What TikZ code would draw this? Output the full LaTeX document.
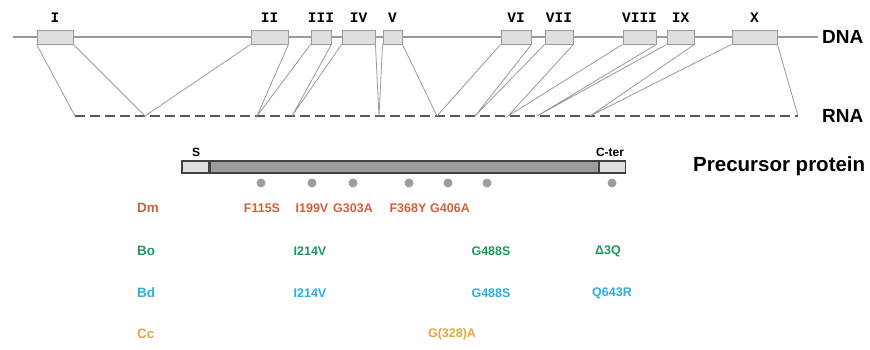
\documentclass[tikz,border=0pt]{standalone}
\usepackage{fontspec}
\setmainfont{Liberation Sans}
\newfontfamily\exonfont{Liberation Mono}
\usetikzlibrary{positioning}
\definecolor{dmcol}{HTML}{D0603A}
\definecolor{bocol}{HTML}{1C9A5C}
\definecolor{bdcol}{HTML}{2AAEDF}
\definecolor{cccol}{HTML}{E2A842}
\definecolor{linegray}{HTML}{9A9A9A}
\definecolor{exonfill}{HTML}{DEDEDE}
\definecolor{bargray}{HTML}{9C9C9C}
\begin{document}
\begin{tikzpicture}[x=1pt,y=-1pt,
    exon/.style={draw=linegray,fill=exonfill,line width=0.9pt,minimum height=14pt,inner sep=0pt},
    exonlab/.style={font=\exonfont\bfseries\fontsize{14.5}{14.5}\selectfont,inner sep=0pt},
    splice/.style={linegray,line width=0.8pt},
    seg/.style={draw=black!75,line width=1.1pt,minimum height=12pt,inner sep=0pt},
    biglab/.style={font=\bfseries\fontsize{19}{19}\selectfont,inner sep=0pt,anchor=west},
    rowlab/.style={font=\bfseries\fontsize{13.5}{13.5}\selectfont,inner sep=0pt,anchor=west},
    mutlab/.style={font=\bfseries\fontsize{12.5}{12.5}\selectfont,inner sep=0pt}]
\useasboundingbox (0,0) rectangle (870,350);
% gene
\draw[linegray,line width=1.4pt] (13,37) -- (818,37) coordinate (dnaend);
\node[biglab] (dna) at (822,37) {DNA};
\foreach \n/\a/\b/\lab in {1/37/73/I,2/251/288/II,3/311/331/III,4/342/375/IV,5/383/402/V,
    6/501/531/VI,7/545/573/VII,8/623/656/VIII,9/667/694/IX,10/732/777/X} {
  \pgfmathsetmacro\w{\b-\a}
  \pgfmathsetmacro\c{(\a+\b)/2}
  \node[exon,minimum width=\w pt] (e\n) at (\c,37) {};
  \node[exonlab] (l\n) at (\c,18) {\lab};
}
% mRNA
\foreach \n/\x in {0/75,1/145,2/257,3/292,4/379,5/437,6/475,7/508,8/537,9/590,10/798}
  \coordinate (r\n) at (\x,116);
\draw[dash pattern=on 10pt off 5pt,black!65,line width=1.8pt] (r0) -- (r10);
\node[biglab] (rna) at (822,116) {RNA};
\draw[splice] (e1.south west) -- (r0);
\foreach \k [evaluate=\k as \j using int(\k+1)] in {1,...,9}
  \draw[splice] (e\k.south east) -- (r\k) -- (e\j.south west);
\draw[splice] (e10.south east) -- (r10);
% protein
\node[seg,fill=exonfill,minimum width=27pt] (sig) at (195.5,167) {};
\node[seg,fill=bargray,minimum width=388pt,right=0pt of sig] (body) {};
\node[seg,fill=exonfill,minimum width=26pt,right=0pt of body] (cter) {};
\node[font=\bfseries\fontsize{12}{12}\selectfont,inner sep=0pt] (slab) at (196,152) {S};
\node[font=\bfseries\fontsize{12}{12}\selectfont,inner sep=0pt] (clab) at (610,152) {C-ter};
\node[biglab,font=\bfseries\fontsize{20.5}{20.5}\selectfont] (prec) at (693,166) {Precursor protein};
\foreach \x in {261,312,353,409,448,487,612}
  \fill[black!38] (\x,183) circle (4.5pt);
% mutations
\node[rowlab,text=dmcol] (dm) at (137,208) {Dm};
\node[rowlab,text=bocol] (bo) at (137,251) {Bo};
\node[rowlab,text=bdcol] (bd) at (137,293) {Bd};
\node[rowlab,text=cccol] (cc) at (137,334) {Cc};
\foreach \x/\m in {262/F115S,312/I199V,353/G303A,408/F368Y,450/G406A}
  \node[mutlab,text=dmcol] at (\x,208) {\m};
\foreach \x/\m in {310/I214V,491/G488S,608/Δ3Q}
  \node[mutlab,text=bocol] at (\x,251) {\m};
\foreach \x/\m in {310/I214V,491/G488S,612/Q643R}
  \node[mutlab,text=bdcol] at (\x,293) {\m};
\node[mutlab,text=cccol] (g328) at (452,334) {G(328)A};
\end{tikzpicture}
\end{document}
